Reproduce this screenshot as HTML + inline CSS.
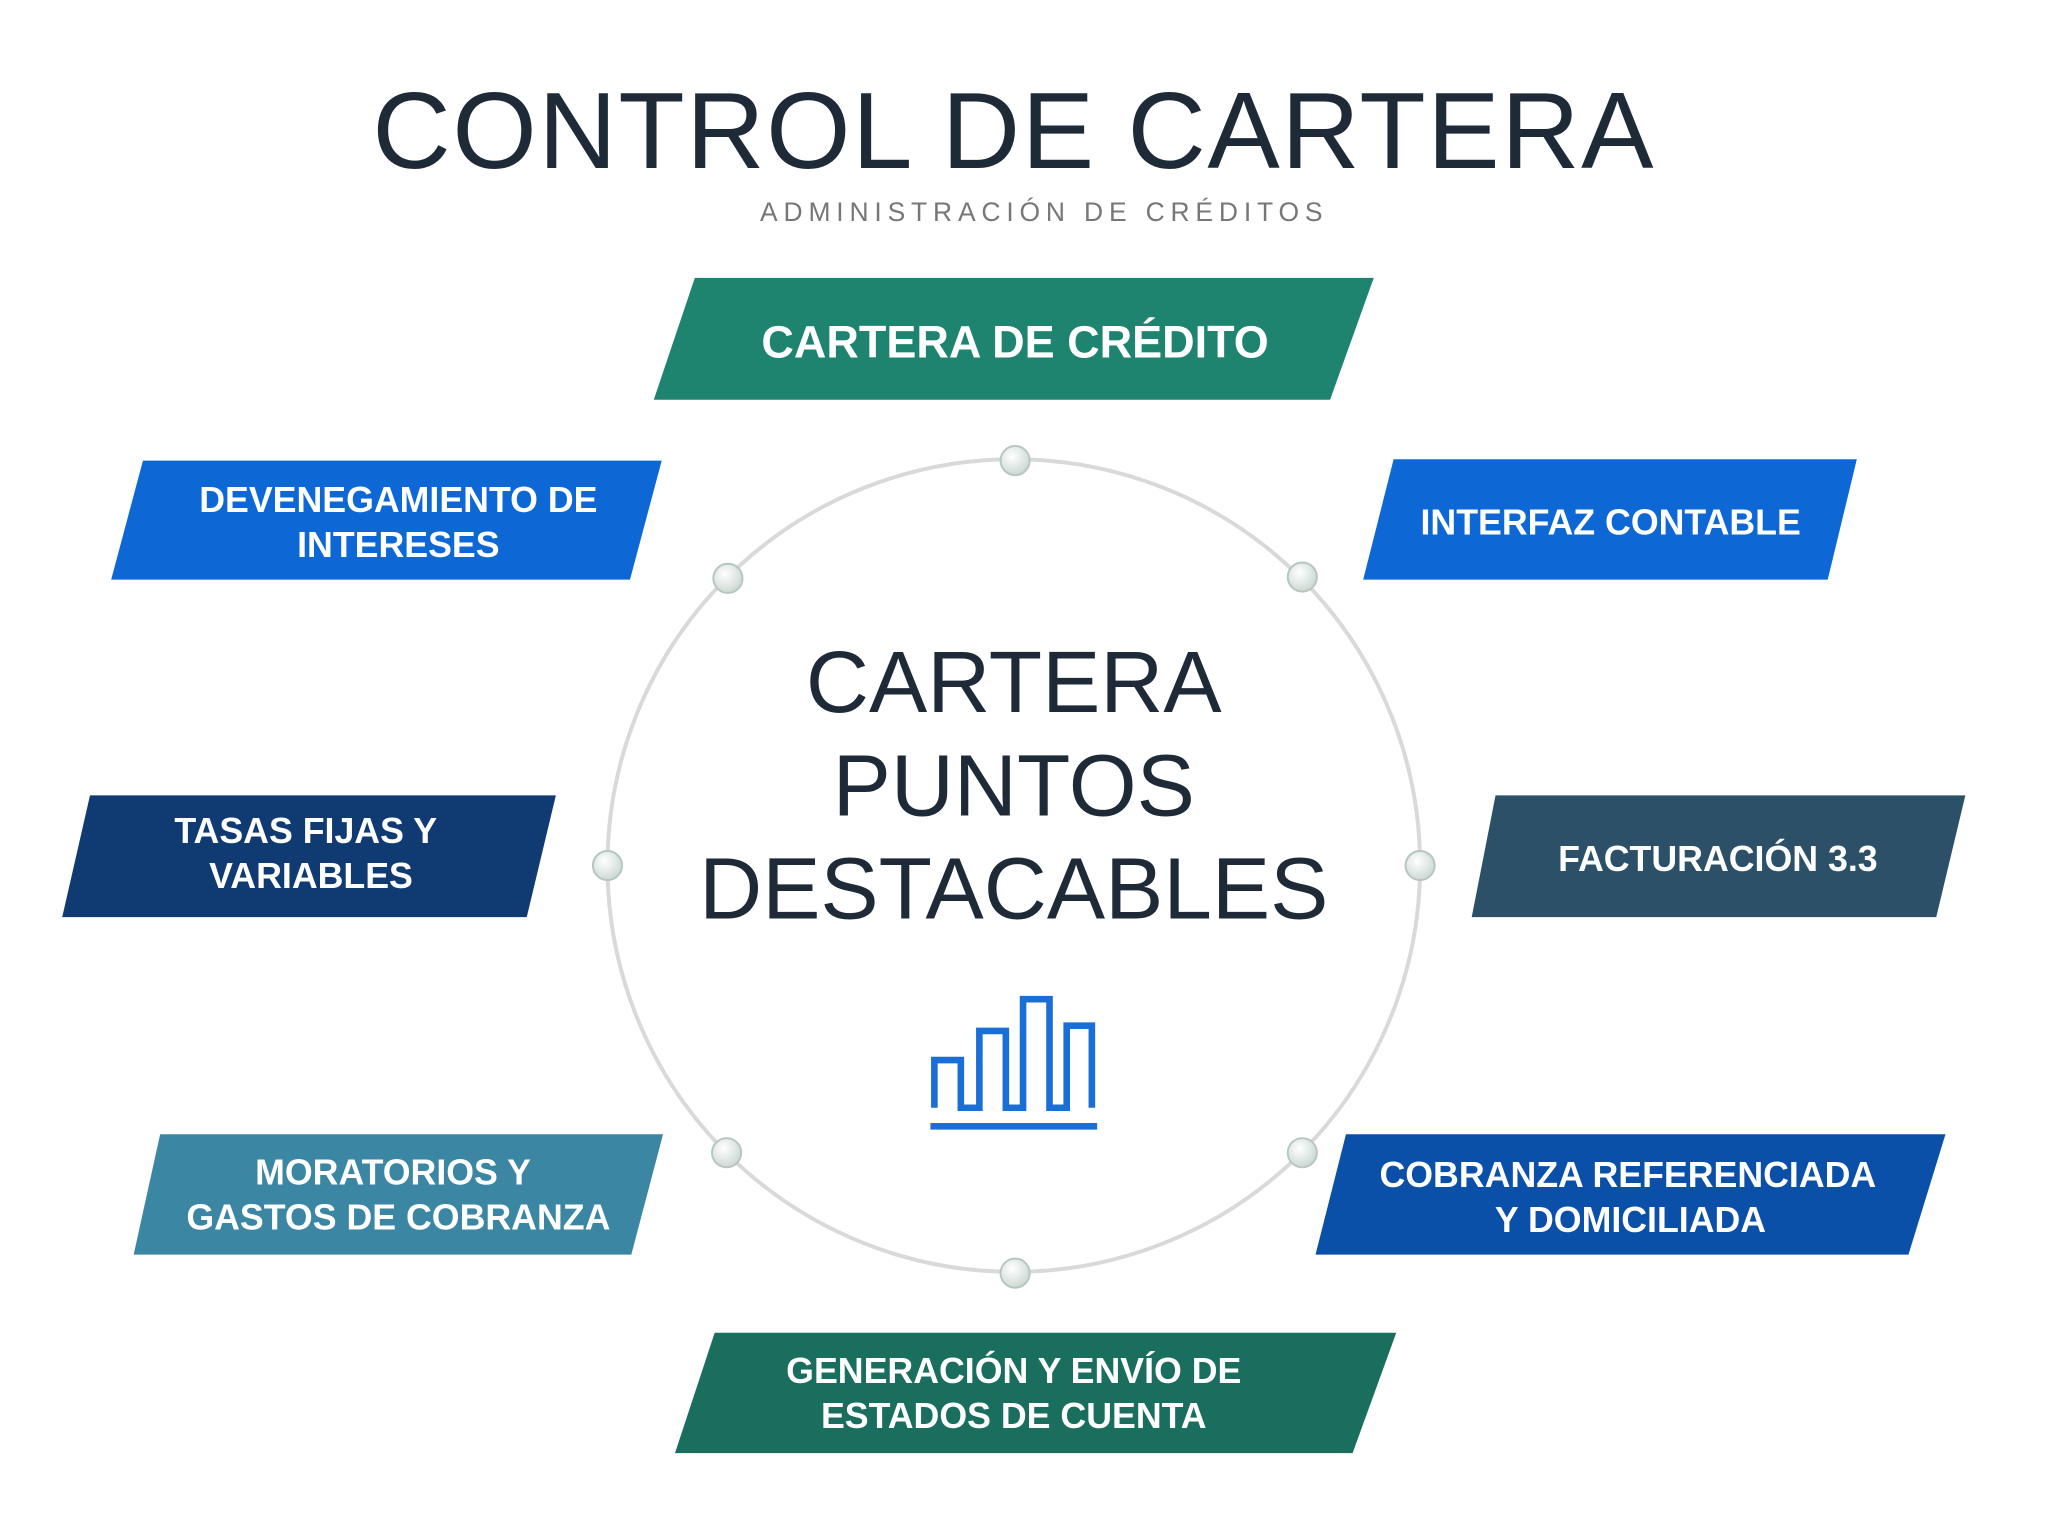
<!DOCTYPE html>
<html><head><meta charset="utf-8"><style>
html,body{margin:0;padding:0;background:#fff;}
svg{display:block;}
text{font-family:"Liberation Sans",sans-serif;}
</style></head><body>
<svg width="2058" height="1522" viewBox="0 0 1555 1150" preserveAspectRatio="none" xmlns="http://www.w3.org/2000/svg">
<defs>
<radialGradient id="dg" cx="40%" cy="35%" r="70%">
<stop offset="0" stop-color="#ffffff"/><stop offset="1" stop-color="#c9d6d0"/>
</radialGradient>
</defs>
<rect width="1555" height="1150" fill="#fff"/>
<text x="766" y="127" font-size="82" fill="#1e2a38" text-anchor="middle" letter-spacing="1.2">CONTROL DE CARTERA</text>
<text x="789" y="167" font-size="20" fill="#777" text-anchor="middle" letter-spacing="4.4">ADMINISTRACIÓN DE CRÉDITOS</text>

<circle cx="766" cy="654" r="307" fill="none" stroke="#d9d9d9" stroke-width="3"/>

<polygon points="525,210 1038,210 1005,302 494,302" fill="#1e8470"/>
<text x="767" y="270" font-size="34" font-weight="bold" fill="#fff" text-anchor="middle">CARTERA DE CRÉDITO</text>

<polygon points="108,348 500,348 476,438 84,438" fill="#0d68d6"/>
<text x="301" y="387" font-size="27" font-weight="bold" fill="#fff" text-anchor="middle">DEVENEGAMIENTO DE</text>
<text x="301" y="421" font-size="27" font-weight="bold" fill="#fff" text-anchor="middle">INTERESES</text>

<polygon points="1053,347 1403,347 1381,438 1030,438" fill="#0d68d6"/>
<text x="1217" y="404" font-size="27" font-weight="bold" fill="#fff" text-anchor="middle">INTERFAZ CONTABLE</text>

<polygon points="68,601 420,601 398,693 47,693" fill="#0f3a72"/>
<text x="231" y="637" font-size="27" font-weight="bold" fill="#fff" text-anchor="middle">TASAS FIJAS Y</text>
<text x="235" y="671" font-size="27" font-weight="bold" fill="#fff" text-anchor="middle">VARIABLES</text>

<polygon points="1130,601 1485,601 1463,693 1112,693" fill="#2c5068"/>
<text x="1298" y="658" font-size="27" font-weight="bold" fill="#fff" text-anchor="middle">FACTURACIÓN 3.3</text>

<polygon points="121,857 501,857 477,948 101,948" fill="#3a86a3"/>
<text x="297" y="895" font-size="27" font-weight="bold" fill="#fff" text-anchor="middle">MORATORIOS Y</text>
<text x="301" y="929" font-size="27" font-weight="bold" fill="#fff" text-anchor="middle">GASTOS DE COBRANZA</text>

<polygon points="1017,857 1470,857 1442,948 994,948" fill="#0a4fa8"/>
<text x="1230" y="897" font-size="27" font-weight="bold" fill="#fff" text-anchor="middle">COBRANZA REFERENCIADA</text>
<text x="1232" y="931" font-size="27" font-weight="bold" fill="#fff" text-anchor="middle">Y DOMICILIADA</text>

<polygon points="540,1007 1055,1007 1022,1098 510,1098" fill="#1a6e5e"/>
<text x="766" y="1045" font-size="27" font-weight="bold" fill="#fff" text-anchor="middle">GENERACIÓN Y ENVÍO DE</text>
<text x="766" y="1079" font-size="27" font-weight="bold" fill="#fff" text-anchor="middle">ESTADOS DE CUENTA</text>

<g fill="url(#dg)" stroke="#b8c6c0" stroke-width="1.5">
<circle cx="767" cy="348" r="11"/><circle cx="550" cy="437" r="11"/><circle cx="984" cy="436" r="11"/>
<circle cx="459" cy="654" r="11"/><circle cx="1073" cy="654" r="11"/><circle cx="549" cy="871" r="11"/>
<circle cx="984" cy="871" r="11"/><circle cx="767" cy="962" r="11"/>
</g>

<text x="766" y="538" font-size="66" fill="#1e2a38" text-anchor="middle">CARTERA</text>
<text x="766" y="616" font-size="66" fill="#1e2a38" text-anchor="middle">PUNTOS</text>
<text x="766" y="694" font-size="66" fill="#1e2a38" text-anchor="middle">DESTACABLES</text>

<g fill="none" stroke="#1a6fd6" stroke-width="5">
<path d="M706,837 V801 H726 V837 H740 V779 H760 V837 H773 V755 H793 V837 H806 V775 H825 V837"/>
<line x1="703" y1="851" x2="829" y2="851"/>
</g>
</svg>
</body></html>
